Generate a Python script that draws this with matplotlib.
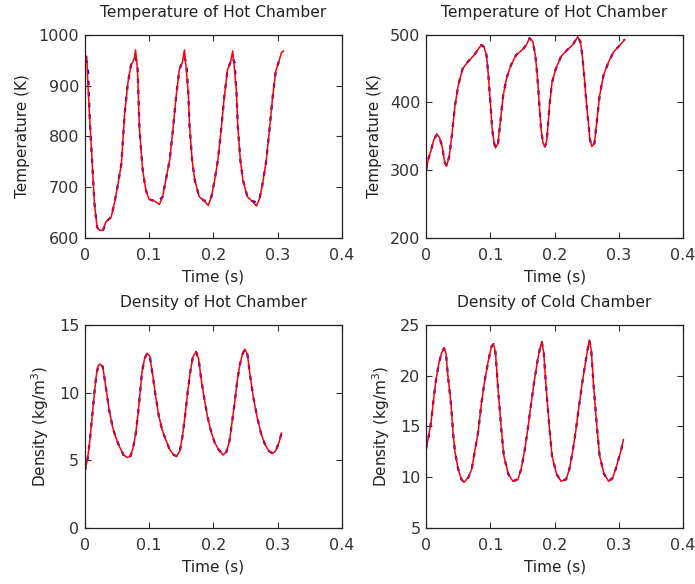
import numpy as np
from matplotlib import pyplot as plt

# temperature of hot chamber (top left), red = model, blue = reference
t_hot = [0.000, 0.003, 0.005, 0.008, 0.011, 0.015, 0.019, 0.023, 0.028, 0.033, 0.041, 0.046,
         0.051, 0.057, 0.062, 0.067, 0.072, 0.075, 0.077, 0.079, 0.082, 0.085, 0.088, 0.090,
         0.095, 0.100, 0.108, 0.116, 0.121, 0.126, 0.132, 0.137, 0.142, 0.147, 0.152, 0.155,
         0.158, 0.161, 0.163, 0.167, 0.171, 0.178, 0.185, 0.192, 0.197, 0.202, 0.207, 0.212,
         0.217, 0.222, 0.227, 0.230, 0.233, 0.236, 0.238, 0.242, 0.246, 0.253, 0.260, 0.267,
         0.272, 0.277, 0.282, 0.287, 0.292, 0.297, 0.302, 0.306, 0.309]
T_hot_red = [960, 957, 898, 826, 760, 668, 622, 615, 615, 632, 641, 668,
             701, 747, 845, 905, 941, 947, 954, 970, 930, 816, 766, 734,
             694, 676, 673, 666, 681, 714, 753, 812, 878, 931, 947, 970,
             930, 885, 820, 753, 714, 681, 674, 664, 681, 714, 753, 812,
             878, 931, 947, 968, 930, 885, 820, 753, 714, 681, 673, 663,
             678, 710, 750, 810, 875, 928, 948, 965, 968]
T_hot_blue = [945, 948, 930, 826, 760, 668, 622, 613, 613, 632, 641, 668,
              701, 747, 845, 905, 941, 947, 950, 955, 940, 816, 766, 734,
              694, 676, 673, 674, 681, 714, 753, 812, 878, 931, 947, 955,
              945, 885, 820, 753, 714, 681, 674, 672, 681, 714, 753, 812,
              878, 931, 947, 955, 945, 885, 820, 753, 714, 681, 673, 670,
              678, 710, 750, 810, 875, 928, 948, 950, 945]

# second temperature panel (top right)
t_hot2 = [0.000, 0.004, 0.008, 0.012, 0.017, 0.021, 0.025, 0.029, 0.032, 0.036, 0.040, 0.045,
          0.050, 0.057, 0.065, 0.075, 0.082, 0.086, 0.090, 0.094, 0.097, 0.100, 0.103, 0.106,
          0.108, 0.112, 0.116, 0.120, 0.125, 0.132, 0.140, 0.150, 0.156, 0.161, 0.166, 0.170,
          0.173, 0.176, 0.179, 0.182, 0.185, 0.188, 0.192, 0.196, 0.202, 0.210, 0.220, 0.228,
          0.236, 0.240, 0.243, 0.246, 0.249, 0.252, 0.255, 0.258, 0.262, 0.266, 0.270, 0.276,
          0.284, 0.292, 0.300, 0.309]
T_hot2 = [300, 318, 330, 345, 353, 348, 335, 312, 306, 320, 350, 395,
          425, 450, 460, 470, 480, 485, 482, 470, 440, 400, 360, 340,
          333, 340, 375, 410, 435, 455, 470, 478, 485, 495, 490, 470,
          440, 400, 360, 340, 335, 345, 395, 430, 450, 468, 478, 485,
          497, 490, 470, 440, 405, 375, 345, 335, 340, 375, 410, 440,
          460, 475, 483, 493]

# density of hot chamber (bottom left)
t_rho_h = [0.000, 0.004, 0.008, 0.011, 0.015, 0.018, 0.021, 0.024, 0.028, 0.033, 0.038, 0.043,
           0.048, 0.054, 0.060, 0.066, 0.071, 0.075, 0.079, 0.083, 0.086, 0.089, 0.093, 0.097,
           0.101, 0.105, 0.110, 0.115, 0.120, 0.126, 0.132, 0.138, 0.143, 0.148, 0.152, 0.156,
           0.160, 0.164, 0.168, 0.173, 0.177, 0.181, 0.186, 0.191, 0.196, 0.202, 0.208, 0.215,
           0.220, 0.225, 0.229, 0.233, 0.237, 0.241, 0.245, 0.249, 0.253, 0.257, 0.262, 0.268,
           0.274, 0.280, 0.286, 0.292, 0.297, 0.302, 0.306]
rho_h = [4.2, 5.0, 6.5, 8.0, 10.0, 11.3, 12.0, 12.1, 11.9, 10.3, 8.7, 7.5,
         6.7, 6.0, 5.4, 5.2, 5.3, 5.9, 6.9, 8.5, 10.0, 11.5, 12.5, 12.9,
         12.7, 11.5, 9.8, 8.3, 7.3, 6.5, 5.8, 5.4, 5.3, 5.7, 6.8, 8.3,
         10.0, 11.5, 12.6, 13.0, 12.5, 11.0, 9.5, 8.2, 7.2, 6.3, 5.8, 5.4,
         5.6, 6.4, 7.8, 9.2, 10.8, 12.0, 12.8, 13.2, 12.8, 11.3, 9.7, 8.2,
         7.0, 6.2, 5.7, 5.5, 5.7, 6.3, 7.0]

# density of cold chamber (bottom right)
t_rho_c = [0.000, 0.004, 0.008, 0.012, 0.016, 0.020, 0.024, 0.028, 0.031, 0.034, 0.039, 0.042,
           0.045, 0.050, 0.055, 0.059, 0.066, 0.071, 0.076, 0.081, 0.086, 0.091, 0.097, 0.102,
           0.105, 0.108, 0.112, 0.117, 0.121, 0.128, 0.135, 0.143, 0.148, 0.153, 0.158, 0.163,
           0.168, 0.173, 0.177, 0.180, 0.183, 0.187, 0.192, 0.196, 0.203, 0.210, 0.218, 0.223,
           0.228, 0.233, 0.238, 0.243, 0.248, 0.252, 0.254, 0.257, 0.261, 0.266, 0.270, 0.277,
           0.284, 0.290, 0.295, 0.300, 0.304, 0.307]
rho_c = [12.8, 14.0, 15.5, 17.8, 19.8, 21.2, 22.2, 22.7, 22.2, 20.0, 17.1, 14.4,
         12.5, 10.8, 9.8, 9.5, 10.0, 10.8, 12.6, 14.4, 17.2, 19.4, 21.5, 22.9,
         23.1, 22.3, 18.7, 14.8, 12.1, 10.3, 9.6, 9.8, 10.8, 12.5, 14.6, 17.0,
         19.3, 21.3, 22.6, 23.3, 22.3, 18.7, 14.8, 12.1, 10.3, 9.6, 9.8, 10.8,
         12.5, 14.6, 17.0, 19.3, 21.3, 22.8, 23.5, 22.5, 18.7, 14.8, 12.1, 10.3,
         9.6, 9.9, 10.8, 11.9, 12.8, 13.7]

titles = ['Temperature of Hot Chamber', 'Temperature of Hot Chamber',
          'Density of Hot Chamber', 'Density of Cold Chamber']
ylabels = ['Temperature (K)', 'Temperature (K)',
           'Density (kg/m$^3$)', 'Density (kg/m$^3$)']
yticks = [[600, 700, 800, 900, 1000], [200, 300, 400, 500],
          [0, 5, 10, 15], [5, 10, 15, 20, 25]]
xticks = [0, 0.1, 0.2, 0.3, 0.4]

series = [
    (t_hot, T_hot_blue, T_hot_red),
    (t_hot2, T_hot2, T_hot2),
    (t_rho_h, rho_h, rho_h),
    (t_rho_c, rho_c, rho_c),
]

plt.rcParams['font.family'] = 'DejaVu Sans'
plt.rcParams['mathtext.fontset'] = 'dejavusans'

fig = plt.figure(figsize=(6.95, 5.84), dpi=100)
boxes = [[0.122, 0.5925, 0.370, 0.348], [0.613, 0.5925, 0.370, 0.348],
         [0.122, 0.0959, 0.370, 0.348], [0.613, 0.0959, 0.370, 0.348]]

for i in range(4):
    ax = fig.add_axes(boxes[i])
    x, yb, yr = series[i]
    ax.plot(x, yb, '--', color='#0000ff', lw=1.6, dashes=(2, 3))
    ax.plot(x, yr, '-', color='#ff0000', lw=1.1)
    ax.set_xlim(0, 0.4)
    ax.set_ylim(yticks[i][0], yticks[i][-1])
    ax.set_xticks(xticks)
    ax.set_xticklabels(['0', '0.1', '0.2', '0.3', '0.4'])
    ax.set_yticks(yticks[i])
    ax.tick_params(direction='in', length=4, width=0.8, top=True, right=True,
                   labelsize=11.5, pad=4, colors='#333333')
    ax.tick_params(axis='x', pad=7)
    for s in ax.spines.values():
        s.set_linewidth(0.9)
        s.set_color('#222222')
    ax.set_title(titles[i], fontsize=11.2, pad=13, color='#222222')
    ax.set_xlabel('Time (s)', fontsize=11, labelpad=5, color='#222222')
    ax.set_ylabel(ylabels[i], fontsize=11, labelpad=6, color='#222222')

plt.savefig('out.png', dpi=100)
